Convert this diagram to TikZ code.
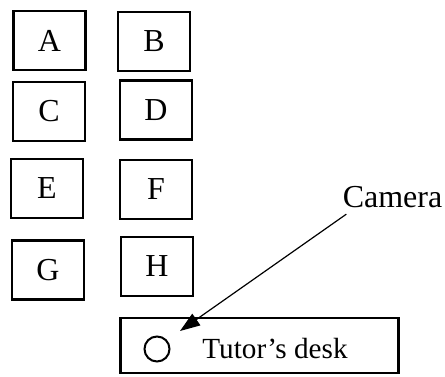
\documentclass[tikz,border=0pt]{standalone}
\usepackage{fontspec}
\setmainfont{Liberation Serif}
\usetikzlibrary{arrows.meta,positioning}

\begin{document}
\begin{tikzpicture}[
  x=0.5pt, y=-0.5pt,
  seat/.style={draw, line width=1.4pt, rectangle, minimum width=36pt, minimum height=29.5pt, inner sep=0pt, font=\fontsize{16}{19}\selectfont},
  desk/.style={draw, line width=1.4pt, rectangle, minimum width=139pt, minimum height=27.5pt, inner sep=0pt},
  lens/.style={draw, line width=1pt, circle, minimum size=12.5pt, inner sep=0pt},
  lbl/.style={font=\fontsize{16}{19}\selectfont, inner sep=0pt},
  arr/.style={-{Triangle[length=10pt, width=7pt]}, line width=0.6pt}
]
\useasboundingbox (0,0) rectangle (445,376);

% left column of seats
\node[seat] (a) at (49.5,40.5) {A};
\node[seat] (c) at (49,111.5) {C};
\node[seat] (e) at (47,188.5) {E};
\node[seat] (g) at (48,270) {G};

% right column of seats
\node[seat] (b) at (154,41.5) {B};
\node[seat] (d) at (156,110) {D};
\node[seat] (f) at (156,189.5) {F};
\node[seat] (h) at (157,266.5) {H};

% tutor's desk with camera
\node[desk] (desk) at (259.5,345.5) {};
\node[lens] (lens) at (157,349) {};
\node[lbl, anchor=west, font=\fontsize{14.6}{18}\selectfont] (tutor) at (202,349) {Tutor’s desk};

\node[lbl] (camera) at (392.5,197) {Camera};
\coordinate (tip) at (180,331);

\draw[arr] ([xshift=2pt, yshift=-3pt]camera.south west) -- (tip);

\end{tikzpicture}
\end{document}
